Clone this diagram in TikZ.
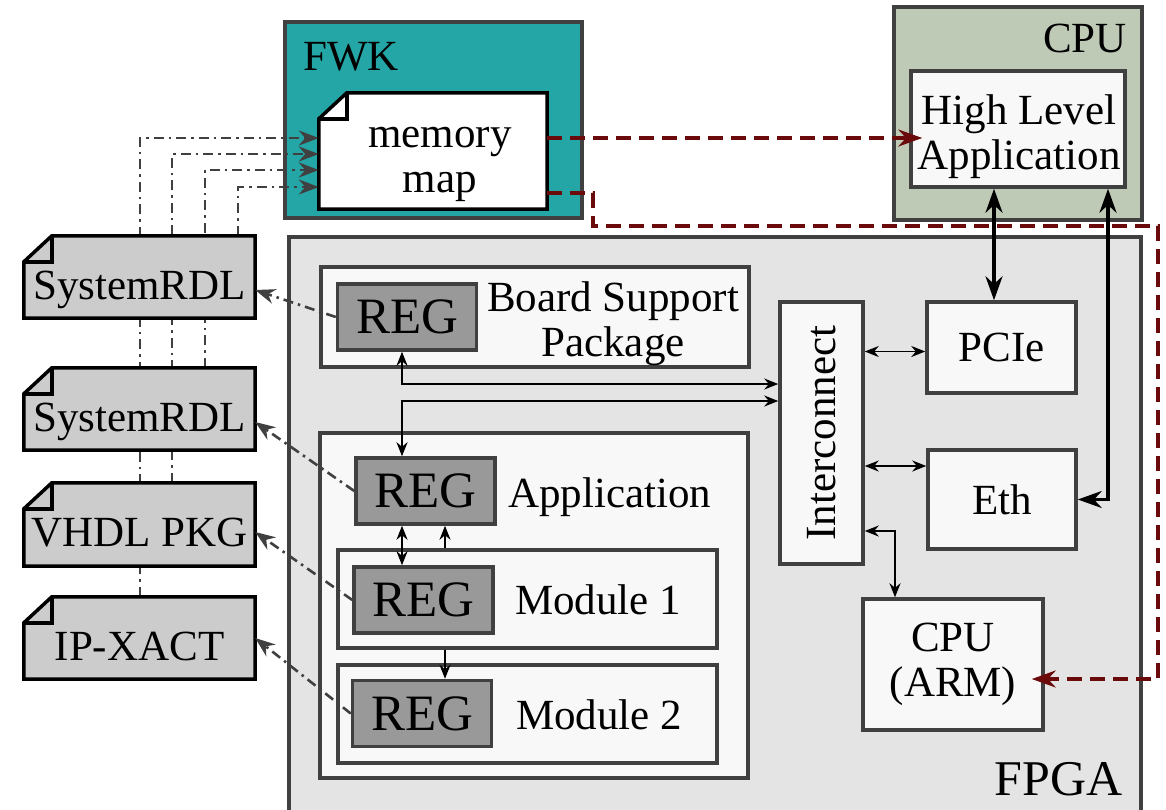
\documentclass[tikz,border=0pt]{standalone}
\usepackage{fontspec}
\setmainfont{Liberation Serif}
\usetikzlibrary{arrows.meta}
\pgfdeclarelayer{background}
\pgfdeclarelayer{links}
\pgfdeclarelayer{docs}
\pgfsetlayers{background,links,docs,main}
\definecolor{fwkteal}{RGB}{36,166,166}
\definecolor{cpugreen}{RGB}{190,201,182}
\definecolor{fpgagray}{RGB}{228,228,228}
\definecolor{boxwhite}{RGB}{248,248,248}
\definecolor{reggray}{RGB}{153,153,153}
\definecolor{docgray}{RGB}{204,204,204}
\definecolor{edgegray}{RGB}{64,64,64}
\definecolor{mapred}{RGB}{107,10,10}

\begin{document}
\begin{tikzpicture}[x=1pt,y=-1pt,font=\fontsize{43}{45}\selectfont]
\tikzstyle{area}=[rectangle,draw=edgegray,line width=3.5pt,inner sep=0pt]
\tikzstyle{block}=[rectangle,draw=edgegray,line width=3.5pt,fill=boxwhite,inner sep=0pt,align=center]
\tikzstyle{reg}=[rectangle,draw=edgegray,line width=3.5pt,fill=reggray,inner sep=0pt,minimum width=139pt,minimum height=66pt,font=\fontsize{51}{54}\selectfont]
\tikzstyle{doc}=[rectangle,inner sep=0pt,minimum width=231pt,minimum height=82pt,text height=52pt,text depth=8pt]
\tikzstyle{docline}=[draw=black,line width=3.5pt,line join=miter]
\tikzstyle{boxlabel}=[inner sep=0pt]
\tikzstyle{bus}=[line width=1.8pt,{Stealth[length=14pt,width=11pt]}-{Stealth[length=14pt,width=11pt]}]
\tikzstyle{busone}=[line width=1.8pt,-{Stealth[length=14pt,width=11pt]}]
\tikzstyle{hostlink}=[line width=3.5pt,{Stealth[length=24pt,width=17pt]}-{Stealth[length=24pt,width=17pt]}]
\tikzstyle{maplink}=[mapred,line width=3.5pt,dash pattern=on 15pt off 8pt,-{Stealth[length=24pt,width=17pt]},shorten >=-13pt]
\tikzstyle{reflink}=[edgegray,line width=2.6pt,dash pattern=on 10pt off 5pt on 2.5pt off 5pt,-{Stealth[length=20pt,width=15pt]}]
\useasboundingbox (0,0) rectangle (1166,809);

\begin{pgfonlayer}{background}
\node[area,fill=fwkteal,minimum width=297pt,minimum height=196pt] (fwk) at (433.5,120) {};
\node[area,fill=cpugreen,minimum width=248pt,minimum height=213pt] (cpu) at (1018,113.5) {};
\node[area,fill=fpgagray,minimum width=852pt,minimum height=593pt] (fpga) at (715,533.5) {};
\end{pgfonlayer}
\node[boxlabel,anchor=base west] (fwklabel) at (303,70) {FWK};
\node[boxlabel,anchor=base east] (cpulabel) at (1127,52) {CPU};
\node[boxlabel,anchor=base east,font=\fontsize{50}{54}\selectfont] (fpgalabel) at (1123,795) {FPGA};

\node[rectangle,inner sep=0pt,minimum width=228pt,minimum height=116pt] (mm) at (433,151) {};
\node[align=center,inner sep=0pt] (mmtext) at (440,164) {memory\\map};
\node[block,minimum width=214pt,minimum height=116pt] (hla) at (1018,129) {};
\node[boxlabel,align=center] (hlatext) at (1019,137) {High Level\\Application};

\node[doc] (rdlA) at (139.5,277) {SystemRDL};
\node[doc] (rdlB) at (139.5,409) {SystemRDL};
\node[doc,minimum height=83pt] (vhdl) at (139.5,524.5) {VHDL PKG};
\node[doc] (ipx) at (139.5,638) {IP-XACT};

\node[block,minimum width=428pt,minimum height=100pt] (bsp) at (535,317) {};
\node[boxlabel,align=center] (bsptext) at (613,324) {Board Support\\Package};
\node[block,minimum width=428pt,minimum height=345pt] (app) at (534,605.5) {};
\node[boxlabel,anchor=west] (apptext) at (508,497) {Application};
\node[block,minimum width=379pt,minimum height=98pt] (mod1) at (527.5,599) {};
\node[boxlabel,anchor=base west] (mod1text) at (515,614) {Module 1};
\node[block,minimum width=379pt,minimum height=98pt] (mod2) at (527.5,714) {};
\node[boxlabel,anchor=base west] (mod2text) at (516,729) {Module 2};

\node[reg] (regbsp) at (407,317) {REG};
\node[reg] (regapp) at (425.5,491) {REG};
\node[reg] (regm1) at (423.5,600) {REG};
\node[reg] (regm2) at (422,713.5) {REG};

\node[block,minimum width=83pt,minimum height=262pt] (ic) at (821.5,433) {\rotatebox{90}{Interconnect}};
\node[block,minimum width=149pt,minimum height=91pt] (pcie) at (1001.5,347.5) {PCIe};
\node[block,minimum width=148pt,minimum height=99pt] (eth) at (1002,499.5) {Eth};
\node[block,minimum width=180pt,minimum height=131pt] (arm) at (953,664.5) {CPU\\(ARM)};

\begin{pgfonlayer}{docs}
\foreach \d/\c in {rdlA/docgray,rdlB/docgray,vhdl/docgray,ipx/docgray,mm/white}{
  \filldraw[docline,fill=\c] ([yshift=-26pt]\d.north west) -- ([xshift=28pt]\d.north west) -- (\d.north east) -- (\d.south east) -- (\d.south west) -- cycle;
  \draw[docline] ([yshift=-26pt]\d.north west) -- ([xshift=28pt,yshift=-26pt]\d.north west) -- ([xshift=28pt]\d.north west);
}
\end{pgfonlayer}

\begin{pgfonlayer}{links}
\draw[reflink] ([xshift=0.5pt]ipx.north) |- ([yshift=13pt]mm.west);
\draw[reflink] ([xshift=32.5pt]vhdl.north) |- ([yshift=-3pt]mm.west);
\draw[reflink] ([xshift=65.5pt]rdlB.north) |- ([yshift=-19pt]mm.west);
\draw[reflink] ([xshift=98.5pt]rdlA.north) |- ([yshift=-36pt]mm.west);
\end{pgfonlayer}

\draw[reflink] (regbsp.west) -- ([yshift=-13pt]rdlA.east);
\draw[reflink] (regapp.west) -- ([yshift=-13pt]rdlB.east);
\draw[reflink] (regm1.west) -- ([yshift=-7.5pt]vhdl.east);
\draw[reflink] (regm2.west) -- (ipx.east);

\draw[bus] ([xshift=-5pt]regbsp.south) |- ([yshift=49pt]ic.west);
\draw[bus] ([yshift=32pt]ic.west) -| ([xshift=-23.5pt]regapp.north);
\draw[bus] ([xshift=-23.5pt]regapp.south) -- ([xshift=-23.5pt]regapp.south |- regm1.north);
\draw[busone] ([xshift=-82.5pt]mod1.north) -- ([xshift=-82.5pt]mod1.north |- regapp.south);
\draw[busone] ([xshift=-82.5pt]mod1.south) -- ([xshift=-82.5pt]mod1.south |- regm2.north);
\draw[bus] ([yshift=-4pt]pcie.west -| ic.east) -- ([yshift=-4pt]pcie.west);
\draw[bus] ([yshift=33.5pt]eth.west -| ic.east) -- ([yshift=33.5pt]eth.west);
\draw[bus] ([yshift=-98pt]ic.east) -| ([xshift=-58pt]arm.north);

\draw[hostlink] ([xshift=-24pt]hla.south) -- ([xshift=-24pt]hla.south |- pcie.north);
\draw[hostlink] ([xshift=90pt]hla.south) |- (eth.east);

\draw[maplink] ([yshift=13pt]mm.east) -- ([yshift=13pt]mm.east -| hla.west);
\draw[maplink] ([yshift=-42pt]mm.east) -- ++(46,0) |- ++(565,33) |- ([yshift=-14.5pt]arm.east);
\end{tikzpicture}
\end{document}
